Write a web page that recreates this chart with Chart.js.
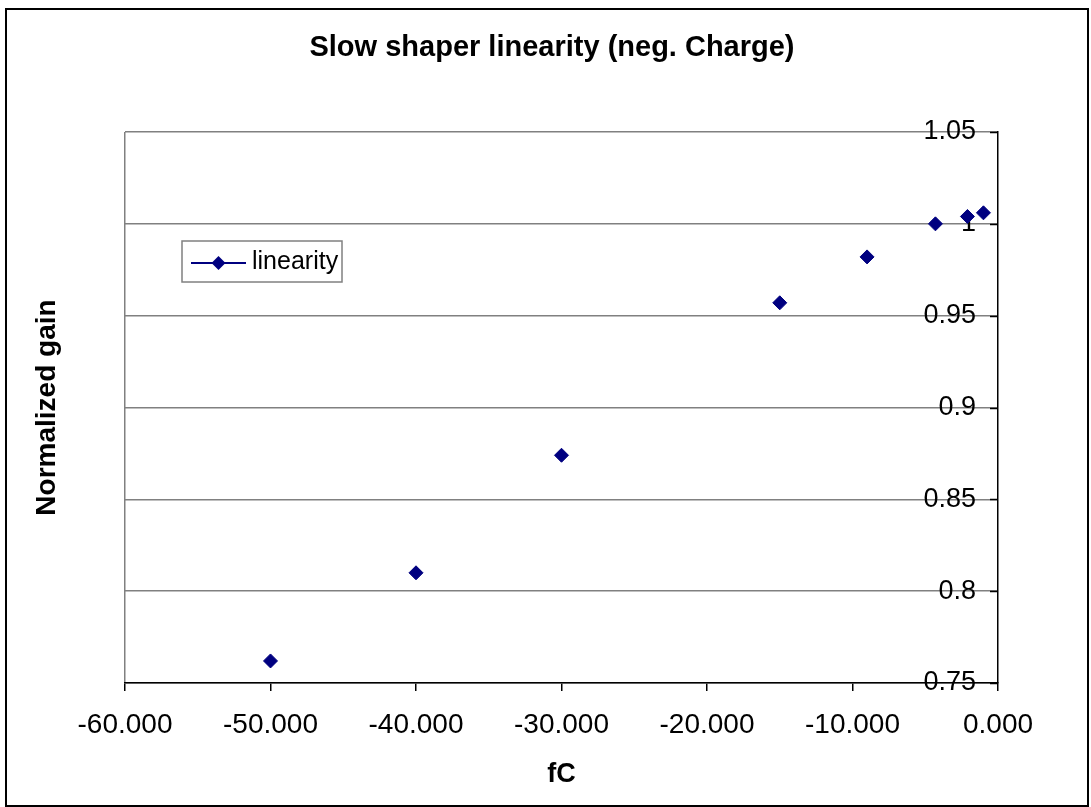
<!DOCTYPE html>
<html>
<head>
<meta charset="utf-8">
<script src="https://cdn.jsdelivr.net/npm/chart.js@4/dist/chart.umd.min.js"></script>
<style>
  html, body { margin: 0; padding: 0; background: #fff; }
  #wrap { width: 1091px; height: 807px; position: relative; }
</style>
</head>
<body>
<div id="wrap"><canvas id="grafico"></canvas></div>
<script>
// values
const chargeFC = [-50, -40, -30, -15, -9, -4.3, -2.1, -1]
const normGain = [0.762, 0.810, 0.874, 0.957, 0.982, 1.000, 1.004, 1.006]
const serieNome = 'linearity'
const titulo = 'Slow shaper linearity (neg. Charge)'
const tituloX = 'fC'
const tituloY = 'Normalized gain'

const fonte = "'Liberation Sans', Arial, sans-serif"
const azul = '#000080'

const pontos = chargeFC.map((v, i) => ({ x: v, y: normGain[i] }))

// outer frame of the excel chart
const moldura = {
    id: 'moldura',
    beforeDraw(chart) {
        const ctx = chart.ctx
        ctx.save()
        ctx.fillStyle = '#fff'
        ctx.fillRect(0, 0, chart.width, chart.height)
        ctx.strokeStyle = '#000'
        ctx.lineWidth = 2
        ctx.strokeRect(6, 9, 1082, 797)
        ctx.restore()
    }
}

// small inward ticks on the right value axis
const marcasY = {
    id: 'marcasY',
    afterDraw(chart) {
        const s = chart.scales.y
        const ctx = chart.ctx
        ctx.save()
        ctx.strokeStyle = '#000'
        ctx.lineWidth = 1.5
        s.ticks.forEach(t => {
            const py = Math.round(s.getPixelForValue(t.value)) + 0.5
            ctx.beginPath()
            ctx.moveTo(s.left - 8, py)
            ctx.lineTo(s.left, py)
            ctx.stroke()
        })
        ctx.restore()
    }
}

// legend box inside the plot, like excel
const legendaBox = {
    id: 'legendaBox',
    afterDatasetsDraw(chart) {
        const ds = chart.data.datasets[0]
        const r = ds.pointRadius
        const ctx = chart.ctx
        ctx.save()
        ctx.fillStyle = '#fff'
        ctx.fillRect(182, 241, 160, 41)
        ctx.strokeStyle = '#808080'
        ctx.lineWidth = 1.5
        ctx.strokeRect(182, 241, 160, 41)
        ctx.strokeStyle = ds.borderColor
        ctx.lineWidth = 2
        ctx.beginPath()
        ctx.moveTo(191, 263)
        ctx.lineTo(246, 263)
        ctx.stroke()
        ctx.fillStyle = ds.backgroundColor
        ctx.beginPath()
        ctx.moveTo(218.5, 263 - r)
        ctx.lineTo(218.5 + r, 263)
        ctx.lineTo(218.5, 263 + r)
        ctx.lineTo(218.5 - r, 263)
        ctx.closePath()
        ctx.fill()
        ctx.fillStyle = '#000'
        ctx.font = '25px ' + fonte
        ctx.textBaseline = 'middle'
        ctx.textAlign = 'left'
        ctx.fillText(ds.label, 252, 262)
        ctx.restore()
    }
}

const dadosGrafico = {
    datasets: [{
        label: serieNome,
        data: pontos,
        showLine: false,
        pointStyle: 'rectRot',
        pointRadius: 7,
        pointHoverRadius: 7,
        borderWidth: 1,
        backgroundColor: azul,
        borderColor: azul
    }]
}

const config = {
    type: 'scatter',
    data: dadosGrafico,
    options: {
        responsive: true,
        maintainAspectRatio: false,
        animation: false,
        layout: { padding: { left: 13, top: 0, right: 0, bottom: 0 } },
        plugins: {
            legend: { display: false },
            tooltip: { enabled: false },
            title: {
                display: true,
                text: titulo,
                color: '#000',
                font: { family: fonte, size: 29, weight: 'bold' },
                padding: { top: 31, bottom: 66.2 }
            }
        },
        scales: {
            x: {
                type: 'linear',
                position: 'bottom',
                min: -60,
                max: 0,
                ticks: {
                    stepSize: 10,
                    color: '#000',
                    padding: 17,
                    font: { family: fonte, size: 28 },
                    callback: v => v.toFixed(3)
                },
                grid: {
                    drawOnChartArea: true,
                    color: c => c.index === 0 ? '#808080' : 'rgba(0,0,0,0)',
                    lineWidth: 1.5,
                    tickColor: '#000',
                    tickLength: 8
                },
                border: { color: '#000', width: 1.5 },
                title: {
                    display: true,
                    text: tituloX,
                    color: '#000',
                    font: { family: fonte, size: 27, weight: 'bold' },
                    padding: { top: 0, bottom: 16 }
                }
            },
            y: {
                position: 'right',
                min: 0.75,
                max: 1.05,
                ticks: {
                    stepSize: 0.05,
                    mirror: true,
                    padding: -22,
                    color: '#000',
                    font: { family: fonte, size: 27 },
                    callback: v => String(Math.round(v * 100) / 100)
                },
                grid: {
                    color: '#808080',
                    lineWidth: 1.5,
                    drawTicks: true,
                    tickLength: 137,
                    tickColor: 'rgba(0,0,0,0)'
                },
                border: { color: '#000', width: 1.5 }
            },
            yl: {
                position: 'left',
                min: 0,
                max: 1,
                ticks: { display: false },
                grid: { display: false, drawTicks: false },
                border: { display: false },
                title: {
                    display: true,
                    text: tituloY,
                    color: '#000',
                    font: { family: fonte, size: 28, weight: 'bold' },
                    padding: { top: 17.2, bottom: 61.2 }
                }
            }
        }
    },
    plugins: [moldura, marcasY, legendaBox]
}

const meuGrafico = new Chart(document.getElementById('grafico'), config)
</script>
</body>
</html>
